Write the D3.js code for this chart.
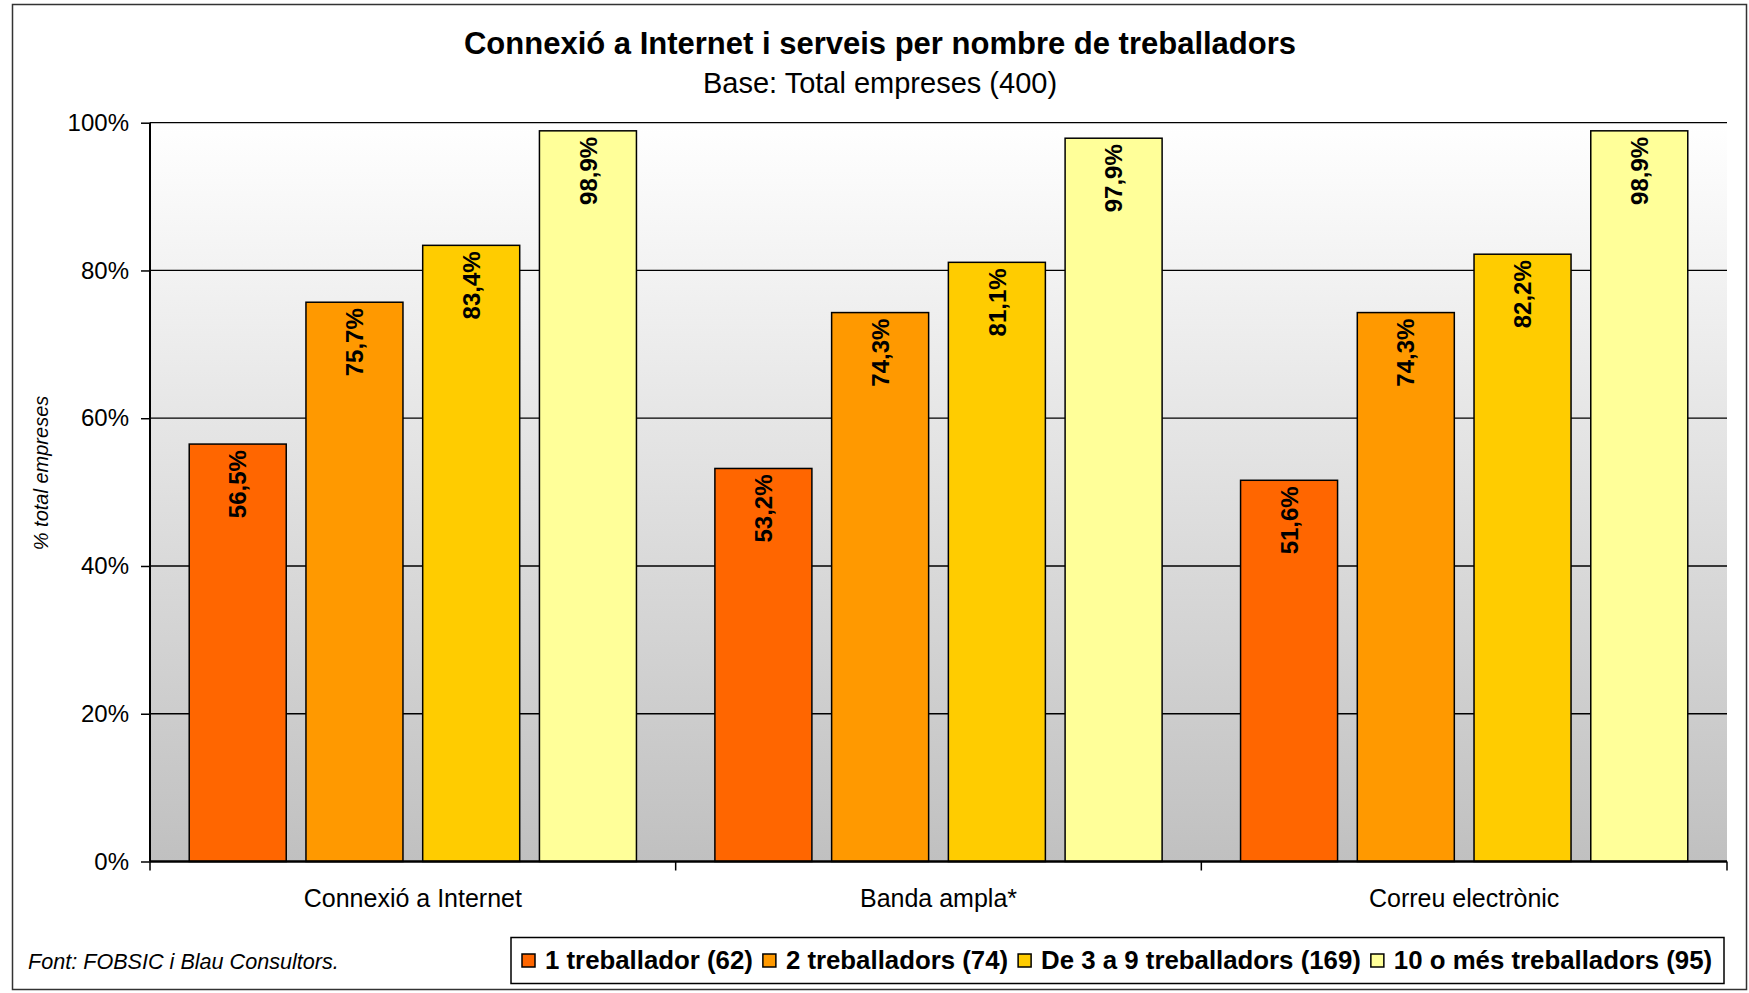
<!DOCTYPE html>
<html>
<head>
<meta charset="utf-8">
<script src="https://cdn.jsdelivr.net/npm/d3@7"></script>
<style>
  html, body { margin: 0; padding: 0; background: #fff; }
  svg { display: block; font-family: "Liberation Sans", Arial, sans-serif; }
</style>
</head>
<body>
<svg id="chart" width="1749" height="993"></svg>
<script>
const categories = ["Connexió a Internet", "Banda ampla*", "Correu electrònic"];
const seriesNames = ["1 treballador (62)", "2 treballadors (74)", "De 3 a 9 treballadors (169)", "10 o més treballadors (95)"];
const s1 = [56.5, 53.2, 51.6];
const s2 = [75.7, 74.3, 74.3];
const s3 = [83.4, 81.1, 82.2];
const s4 = [98.9, 97.9, 98.9];
const seriesValues = [s1, s2, s3, s4];
const yTicks = [0, 20, 40, 60, 80, 100];
const colors = ["#FF6600", "#FF9900", "#FFCC00", "#FFFF99"];

const svg = d3.select("#chart");
const m = { left: 150, right: 1727, top: 122.7, bottom: 861.5 };

// outer frame
svg.append("rect").attr("x", 12.5).attr("y", 4.5).attr("width", 1734).attr("height", 985)
  .attr("fill", "#fff").attr("stroke", "#333").attr("stroke-width", 1.5);

// gradient
const defs = svg.append("defs");
const grad = defs.append("linearGradient").attr("id", "bg").attr("x1", 0).attr("y1", 0).attr("x2", 0).attr("y2", 1);
grad.append("stop").attr("offset", "0%").attr("stop-color", "#ffffff");
grad.append("stop").attr("offset", "100%").attr("stop-color", "#c0c0c0");

const x0 = d3.scaleBand().domain(categories).range([m.left, m.right]).padding(0);
const x1 = d3.scaleBand().domain(d3.range(4)).range([0, x0.bandwidth()]).paddingInner(0.169).paddingOuter(0.336);
const y = d3.scaleLinear().domain([0, 100]).range([m.bottom, m.top]);

svg.append("rect").attr("x", m.left).attr("y", m.top).attr("width", m.right - m.left).attr("height", m.bottom - m.top)
  .attr("fill", "url(#bg)");

// gridlines
svg.append("g").selectAll("line").data(yTicks.filter(d => d > 0)).join("line")
  .attr("x1", m.left).attr("x2", m.right).attr("y1", d => y(d)).attr("y2", d => y(d))
  .attr("stroke", "#000").attr("stroke-width", 1.3);

// bars
const groups = svg.append("g").selectAll("g").data(categories).join("g")
  .attr("transform", d => `translate(${x0(d)},0)`);
groups.selectAll("rect").data((d, i) => seriesValues.map((s, j) => ({ j, v: s[i] }))).join("rect")
  .attr("x", d => x1(d.j)).attr("width", x1.bandwidth())
  .attr("y", d => y(d.v)).attr("height", d => y(0) - y(d.v))
  .attr("fill", d => colors[d.j]).attr("stroke", "#000").attr("stroke-width", 1.5);
groups.selectAll("text").data((d, i) => seriesValues.map((s, j) => ({ j, v: s[i] }))).join("text")
  .attr("transform", d => `translate(${x1(d.j) + x1.bandwidth() / 2},${y(d.v) + 6}) rotate(-90)`)
  .attr("text-anchor", "end").attr("dy", "0.36em")
  .attr("font-weight", "bold").attr("font-size", 24).attr("fill", "#000")
  .text(d => d3.format(".1f")(d.v).replace(".", ",") + "%");

// y axis
const yAxis = d3.axisLeft(y).tickValues(yTicks).tickFormat(d => d + "%").tickSize(9).tickPadding(12);
const gy = svg.append("g").attr("transform", `translate(${m.left},0)`).call(yAxis);
gy.select(".domain").attr("stroke", "#000").attr("stroke-width", 2).attr("d", `M0,${m.top}V${m.bottom}`);
gy.selectAll(".tick line").attr("stroke", "#000").attr("stroke-width", 1.5);
gy.selectAll(".tick text").attr("font-size", 24).attr("font-family", "Liberation Sans, Arial, sans-serif").attr("fill", "#000");

// x axis
const gx = svg.append("g").attr("transform", `translate(0,${m.bottom})`);
gx.append("line").attr("x1", m.left).attr("x2", m.right).attr("stroke", "#000").attr("stroke-width", 2.5);
const bounds = categories.map(c => x0(c)).concat([m.right]);
gx.selectAll("line.tk").data(bounds).join("line").attr("class", "tk")
  .attr("x1", d => d).attr("x2", d => d).attr("y1", 0).attr("y2", 9).attr("stroke", "#000").attr("stroke-width", 1.5);
gx.selectAll("text").data(categories).join("text")
  .attr("x", d => x0(d) + x0.bandwidth() / 2).attr("y", 45).attr("text-anchor", "middle")
  .attr("font-size", 25).attr("fill", "#000").text(d => d);

// titles
svg.append("text").attr("x", 880).attr("y", 54).attr("text-anchor", "middle")
  .attr("font-size", 31).attr("font-weight", "bold").text("Connexió a Internet i serveis per nombre de treballadors");
svg.append("text").attr("x", 880).attr("y", 93).attr("text-anchor", "middle")
  .attr("font-size", 29).text("Base: Total empreses (400)");

// y axis title
svg.append("text").attr("transform", "translate(48,473) rotate(-90)").attr("text-anchor", "middle")
  .attr("font-size", 20).attr("font-style", "italic").text("% total empreses");

// source
svg.append("text").attr("x", 28).attr("y", 969).attr("font-size", 21.6).attr("font-style", "italic")
  .text("Font: FOBSIC i Blau Consultors.");

// legend
const lg = svg.append("g");
lg.append("rect").attr("x", 511).attr("y", 937.5).attr("width", 1213).attr("height", 46)
  .attr("fill", "#fff").attr("stroke", "#000").attr("stroke-width", 1.5);
let lx = 522;
seriesNames.forEach((name, i) => {
  lg.append("rect").attr("x", lx).attr("y", 954).attr("width", 13).attr("height", 13)
    .attr("fill", colors[i]).attr("stroke", "#000").attr("stroke-width", 1.5);
  const t = lg.append("text").attr("x", lx + 23).attr("y", 969).attr("font-size", 25.8).attr("font-weight", "bold").text(name);
  lx = lx + 23 + t.node().getComputedTextLength() + 10;
});
</script>
</body>
</html>
